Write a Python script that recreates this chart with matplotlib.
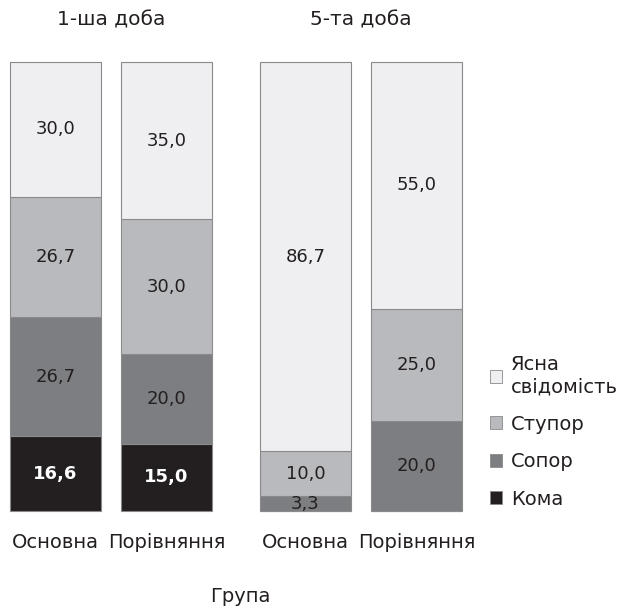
import matplotlib
matplotlib.use("Agg")
import matplotlib.pyplot as plt
from matplotlib.patches import Patch

plt.rcParams['font.family'] = ['DejaVu Sans']

groups = ["1-ша доба", "5-та доба"]
categories = ["Основна", "Порівняння", "Основна", "Порівняння"]
states = ["Кома", "Сопор", "Ступор", "Ясна\nсвідомість"]
koma = [16.6, 15.0, 0.0, 0.0]
sopor = [26.7, 20.0, 3.3, 20.0]
stupor = [26.7, 30.0, 10.0, 25.0]
yasna = [30.0, 35.0, 86.7, 55.0]
series = [koma, sopor, stupor, yasna]
colors = ["#231f20", "#7d7e81", "#b9babd", "#efeff1"]
label_colors = ["white", "#231f20", "#231f20", "#231f20"]

xpos = [0, 1, 2.252, 3.252]
width = 0.82

fig = plt.figure(figsize=(6.24, 6.09), dpi=100)
ax = fig.add_axes([10/624, (609-511)/609, 452/624, 449/609])

bottom = [0.0]*4
for vals, col, lc, name in zip(series, colors, label_colors, states):
    bars = ax.bar(xpos, vals, width=width, bottom=bottom, color=col,
                  edgecolor="#8a8a8a", linewidth=0.8, label=name, clip_on=False)
    for x, v, b in zip(xpos, vals, bottom):
        if v > 0:
            ax.text(x, b + v/2, f"{v:.1f}".replace(".", ","), ha="center", va="center",
                    color=lc, fontsize=13,
                    fontweight="bold" if lc == "white" else "normal")
    bottom = [b + v for b, v in zip(bottom, vals)]

ax.set_xlim(xpos[0]-width/2, xpos[-1]+width/2)
ax.set_ylim(0, 100)
ax.set_xticks(xpos)
ax.set_xticklabels(categories, fontsize=14, color="#231f20")
ax.tick_params(axis="x", length=0, pad=16)
ax.set_yticks([])
for s in ax.spines.values():
    s.set_visible(False)

for g, (a, b) in zip(groups, [(0, 1), (2, 3)]):
    ax.text((xpos[a]+xpos[b])/2, 1+(62-20)/449, g, transform=ax.get_xaxis_transform(),
            ha="center", va="center", fontsize=14.5, color="#231f20")

fig.text(240/624, 1-602/609, "Група", ha="center", va="baseline", fontsize=14, color="#231f20")

handles = [Patch(facecolor=c, edgecolor="#8a8a8a", linewidth=0.6, label=n)
           for c, n in zip(colors[::-1], states[::-1])]
fig.legend(handles=handles, loc="center left", bbox_to_anchor=(472/624, 1-432/609),
           frameon=False, fontsize=14, handlelength=0.65, handleheight=0.65,
           handletextpad=0.45, labelspacing=0.95, labelcolor="#231f20")

fig.savefig("out.png", dpi=100)
